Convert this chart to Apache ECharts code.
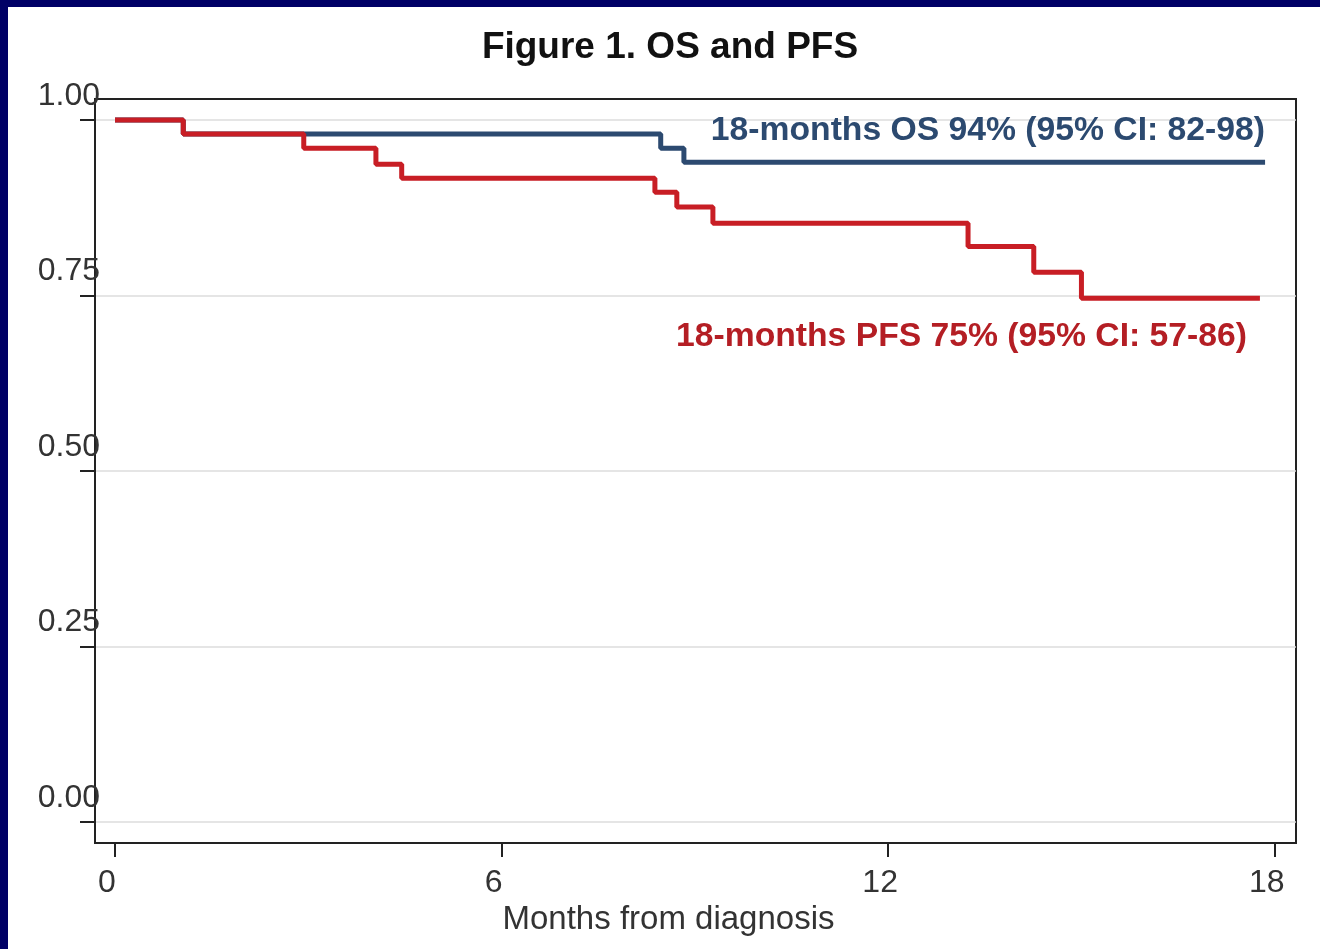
<!DOCTYPE html>
<html>
<head>
<meta charset="utf-8">
<script src="https://cdn.jsdelivr.net/npm/echarts@6/dist/echarts.min.js"></script>
<style>
html,body{margin:0;padding:0;background:#fff;}
#chart{width:1320px;height:949px;}
</style>
</head>
<body>
<div id="chart"></div>
<script>
// Kaplan-Meier step points: [months, survival]
const osMonths  = [0, 1.06, 8.47, 8.83, 17.85];
const osSurv    = [1.0, 0.98, 0.96, 0.94, 0.94];
const pfsMonths = [0, 1.06, 2.93, 4.05, 4.45, 8.38, 8.72, 9.28, 13.24, 14.26, 15.0, 17.77];
const pfsSurv   = [1.0, 0.98, 0.96, 0.937, 0.917, 0.897, 0.876, 0.853, 0.82, 0.783, 0.746, 0.746];
const xTicks = [0, 6, 12, 18];
const yTicks = [0, 0.25, 0.5, 0.75, 1.0];
const titleText = 'Figure 1. OS and PFS';
const xTitle = 'Months from diagnosis';
const osNote = '18-months OS 94% (95% CI: 82-98)';
const pfsNote = '18-months PFS 75% (95% CI: 57-86)';

const zip = (a, b) => a.map((v, i) => [v, b[i]]);
const FONT = '"Liberation Sans", Arial, sans-serif';

const chart = echarts.init(document.getElementById('chart'));
chart.setOption({
  backgroundColor: '#ffffff',
  animation: false,
  grid: { left: 95, right: 24, top: 99, bottom: 106, show: true, borderColor: '#222', borderWidth: 2, backgroundColor: 'transparent' },
  xAxis: {
    type: 'value', min: -0.31, max: 18.33,
    name: xTitle, nameLocation: 'middle', nameGap: 58,
    nameTextStyle: { fontFamily: FONT, fontSize: 33, color: '#333', padding: [0, 54, 0, 0] },
    axisLine: { show: true, onZero: false, lineStyle: { color: '#222', width: 2 } },
    axisTick: { show: true, length: 14, lineStyle: { color: '#222', width: 2 }, customValues: xTicks },
    axisLabel: { fontFamily: FONT, fontSize: 32, color: '#333', margin: 24, padding: [0, 16, 0, 0], customValues: xTicks, formatter: v => String(v) },
    splitLine: { show: false }
  },
  yAxis: {
    type: 'value', min: -0.03, max: 1.03,
    axisLine: { show: true, onZero: false, lineStyle: { color: '#222', width: 2 } },
    axisTick: { show: true, length: 15, lineStyle: { color: '#222', width: 2 }, customValues: yTicks },
    axisLabel: { fontFamily: FONT, fontSize: 32, color: '#333', margin: -5, verticalAlign: 'bottom', lineHeight: 48, customValues: yTicks, formatter: v => v.toFixed(2) },
    splitLine: { show: true, lineStyle: { color: '#dddddd', width: 1.5 } }
  },
  series: [
    { name: 'OS', type: 'line', step: 'end', showSymbol: false, data: zip(osMonths, osSurv),
      lineStyle: { color: '#2c4a70', width: 5 }, itemStyle: { color: '#2c4a70' }, z: 3 },
    { name: 'PFS', type: 'line', step: 'end', showSymbol: false, data: zip(pfsMonths, pfsSurv),
      lineStyle: { color: '#c81e25', width: 5 }, itemStyle: { color: '#c81e25' }, z: 4 }
  ],
  graphic: [
    { type: 'rect', left: 0, top: 0, shape: { width: 1320, height: 7 }, style: { fill: '#000066' }, z: 100 },
    { type: 'rect', left: 0, top: 0, shape: { width: 8, height: 949 }, style: { fill: '#000066' }, z: 100 },
    { type: 'text', x: 670, y: 48, style: { text: titleText, fontFamily: FONT, fontWeight: 'bold', fontSize: 37, fill: '#111', align: 'center', verticalAlign: 'middle' }, z: 50 },
    { type: 'text', x: 1265, y: 131, style: { text: osNote, fontFamily: FONT, fontWeight: 'bold', fontSize: 33.7, fill: '#2c4a70', align: 'right', verticalAlign: 'middle' }, z: 50 },
    { type: 'text', x: 1247, y: 337, style: { text: pfsNote, fontFamily: FONT, fontWeight: 'bold', fontSize: 33.7, fill: '#b41e24', align: 'right', verticalAlign: 'middle' }, z: 50 }
  ]
});
</script>
</body>
</html>
